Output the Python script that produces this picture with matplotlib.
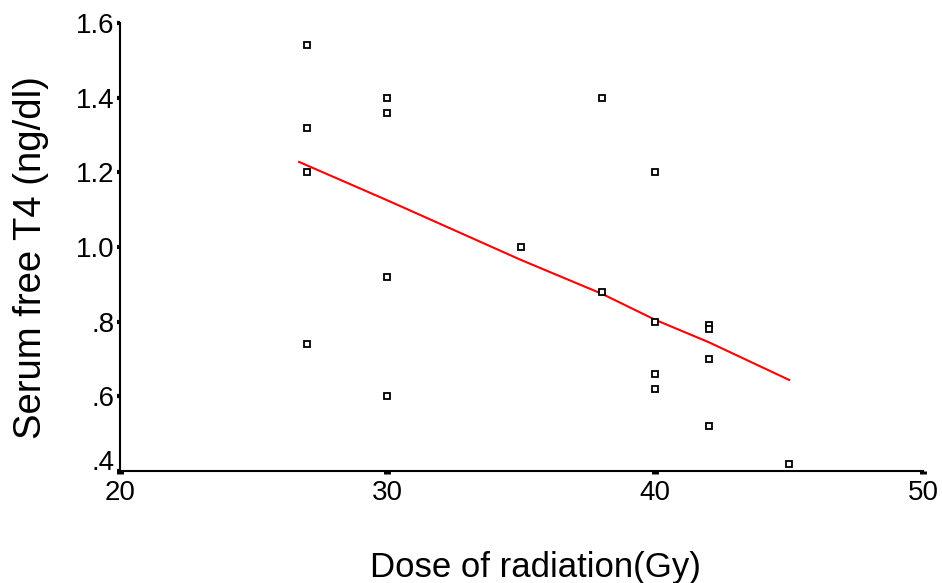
import matplotlib
matplotlib.use("Agg")
import matplotlib.pyplot as plt
from matplotlib.transforms import ScaledTranslation

# dose (Gy) vs serum free T4 (ng/dl)
dose = [27, 27, 27, 27, 30, 30, 30, 30, 35, 38, 38, 40, 40, 40, 40, 42, 42, 42, 42, 45]
ft4 = [1.54, 1.32, 1.20, 0.74, 1.40, 1.36, 0.92, 0.60, 1.00, 1.40, 0.88,
       1.20, 0.80, 0.66, 0.62, 0.79, 0.78, 0.70, 0.52, 0.42]

# fit line as drawn
fit_x = [26.7, 30, 35, 38, 40, 42, 45]
fit_y = [1.228, 1.125, 0.965, 0.875, 0.805, 0.745, 0.644]

xticks = [20, 30, 40, 50]
yticks = [0.4, 0.6, 0.8, 1.0, 1.2, 1.4, 1.6]
ytick_labels = [".4", ".6", ".8", "1.0", "1.2", "1.4", "1.6"]

plt.rcParams['font.family'] = ['Liberation Sans', 'DejaVu Sans']

fig = plt.figure(figsize=(9.42, 5.83), dpi=100)
ax = fig.add_axes([0.127, 0.192, 0.853, 0.7685])

ax.plot(fit_x, fit_y, color='red', lw=1.5, zorder=2)
ax.plot(dose, ft4, linestyle='none', marker='s', markersize=4,
        mfc='white', mec='black', mew=1.3, zorder=3)

ax.set_xlim(20, 50)
ax.set_ylim(0.4, 1.6)
ax.set_xticks(xticks)
ax.set_xticklabels([str(t) for t in xticks])
ax.set_yticks(yticks)
ax.set_yticklabels(ytick_labels)

for s in ['top', 'right']:
    ax.spines[s].set_visible(False)
for s in ['left', 'bottom']:
    ax.spines[s].set_linewidth(1.5)

ax.tick_params(axis='x', direction='out', length=2.5, width=5, labelsize=20, pad=4)
ax.tick_params(axis='y', direction='out', length=2.5, width=3, labelsize=20, pad=1)

# lowest y label sits a bit above its tick in the original
low = ax.get_yticklabels()[0]
low.set_transform(low.get_transform() + ScaledTranslation(0, 8 / 72, fig.dpi_scale_trans))

# axis titles placed to match the original
fig.text(0.5685, 0.0103, "Dose of radiation(Gy)", fontsize=25,
         ha='center', va='baseline')
fig.text(0.033, 0.559, "Serum free T4 (ng/dl)", fontsize=27.5,
         rotation=90, ha='center', va='center')

fig.savefig("out.png", dpi=100)
